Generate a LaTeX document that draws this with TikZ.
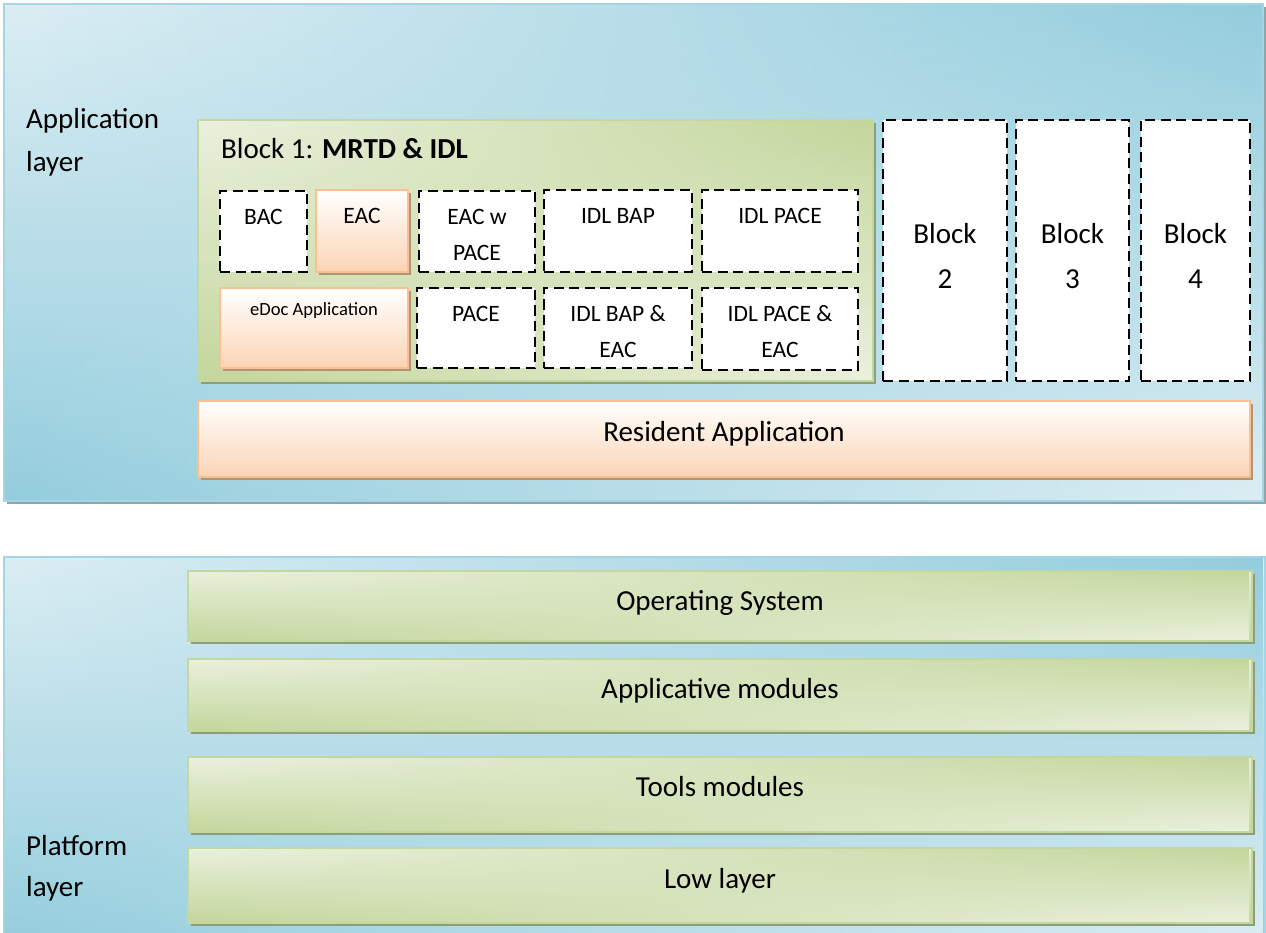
\documentclass[tikz,border=0pt]{standalone}
\usepackage{fontspec}
\setmainfont{Carlito}
\usetikzlibrary{fadings,shadows}
\definecolor{blueL}{HTML}{DCEEF4}
\definecolor{blueD}{HTML}{93CDDD}
\definecolor{blueB}{HTML}{A3D5E2}
\definecolor{blueS}{HTML}{8DA6AE}
\definecolor{greenL}{HTML}{EBF1DE}
\definecolor{greenD}{HTML}{C3D69B}
\definecolor{greenB}{HTML}{C4D79E}
\definecolor{greenS}{HTML}{8B9E7E}
\definecolor{orangeD}{HTML}{FBD4B4}
\definecolor{orangeB}{HTML}{FAC090}
\definecolor{orangeS}{HTML}{B09478}
\tikzfading[name=fadein, left color=transparent!100, right color=transparent!0]
\begin{document}
\begin{tikzpicture}[x=1pt,y=-1pt,
  boxbase/.style={rectangle, inner sep=0pt, outer sep=0pt, anchor=north west},
  quad/.style n args={2}{preaction={top color=#1, bottom color=#2},
                         preaction={top color=#2, bottom color=#1, path fading=fadein}},
  panel/.style={boxbase, draw=blueB, line width=1.5pt,
     drop shadow={shadow xshift=3pt,shadow yshift=-3pt,fill=blueS,opacity=1},
     quad={blueL}{blueD}},
  greenbox/.style={boxbase, draw=greenB, line width=1.5pt,
     drop shadow={shadow xshift=3pt,shadow yshift=-3pt,fill=greenS,opacity=1},
     quad={greenL}{greenD}},
  orangebox/.style={boxbase, draw=orangeB, line width=1.8pt,
     drop shadow={shadow xshift=3pt,shadow yshift=-3pt,fill=orangeS,opacity=1},
     top color=white, bottom color=orangeD},
  dashbox/.style={boxbase, draw=black, fill=white, line width=2.6pt,
     dash pattern=on 10pt off 5.5pt},
  big/.style={inner sep=0pt, anchor=base, font=\fontsize{29}{35}\selectfont},
  bigleft/.style={big, anchor=base west},
  small/.style={inner sep=0pt, anchor=base, font=\fontsize{23.5}{28}\selectfont},
  tiny/.style={inner sep=0pt, anchor=base, font=\fontsize{18.6}{22}\selectfont}
]
\useasboundingbox (0,0) rectangle (1266,933);
\clip (0,0) rectangle (1266,933);

% panels
\node[panel, minimum width=1259pt, minimum height=497pt] (apppanel) at (4,4) {};
\node[panel, minimum width=1261pt, minimum height=390pt] (platpanel) at (4,557) {};

% application layer
\node[bigleft] (applbl1) at (26,129) {Application};
\node[bigleft] (applbl2) at (26,172) {layer};

\node[greenbox, minimum width=675pt, minimum height=261pt] (block1) at (198,120) {};
\node[bigleft] (block1lbl) at (221,159) {Block 1: \textbf{MRTD \& IDL}};

\node[dashbox, minimum width=87pt, minimum height=81pt] (bac) at (220,191) {};
\node[small] (baclbl) at (263.5,225) {BAC};
\node[orangebox, minimum width=92pt, minimum height=82pt] (eac) at (316,190) {};
\node[small] (eaclbl) at (362,224) {EAC};
\node[dashbox, minimum width=116pt, minimum height=81pt] (eacw) at (419,191) {};
\node[small] (eacwlbl1) at (477,225) {EAC w};
\node[small] (eacwlbl2) at (477,261) {PACE};
\node[dashbox, minimum width=148pt, minimum height=82pt] (idlbap) at (544,190) {};
\node[small] (idlbaplbl) at (618,224) {IDL BAP};
\node[dashbox, minimum width=156pt, minimum height=82pt] (idlpace) at (702,190) {};
\node[small] (idlpacelbl) at (780,224) {IDL PACE};

\node[orangebox, minimum width=188pt, minimum height=80pt] (edoc) at (220,288) {};
\node[tiny] (edoclbl) at (314,316) {eDoc Application};
\node[dashbox, minimum width=118pt, minimum height=80pt] (pace) at (417,288) {};
\node[small] (pacelbl) at (476,321) {PACE};
\node[dashbox, minimum width=148pt, minimum height=80pt] (idlbapeac) at (544,288) {};
\node[small] (idlbapeaclbl1) at (618,321) {IDL BAP \&};
\node[small] (idlbapeaclbl2) at (618,357) {EAC};
\node[dashbox, minimum width=156pt, minimum height=82pt] (idlpaceeac) at (702,288) {};
\node[small] (idlpaceeaclbl1) at (780,321) {IDL PACE \&};
\node[small] (idlpaceeaclbl2) at (780,357) {EAC};

\node[dashbox, minimum width=124pt, minimum height=261pt] (block2) at (883,120) {};
\node[big] (block2lbl1) at (945,244) {Block};
\node[big] (block2lbl2) at (945,288) {2};
\node[dashbox, minimum width=113pt, minimum height=261pt] (block3) at (1016,120) {};
\node[big] (block3lbl1) at (1072.5,244) {Block};
\node[big] (block3lbl2) at (1072.5,288) {3};
\node[dashbox, minimum width=109pt, minimum height=261pt] (block4) at (1141,120) {};
\node[big] (block4lbl1) at (1195.5,244) {Block};
\node[big] (block4lbl2) at (1195.5,288) {4};

\node[orangebox, minimum width=1052pt, minimum height=76pt] (resident) at (198,401) {};
\node[big] (residentlbl) at (724,441) {Resident Application};

% platform layer
\node[bigleft] (platlbl1) at (26,855) {Platform};
\node[bigleft] (platlbl2) at (26,896) {layer};

\node[greenbox, minimum width=1064pt, minimum height=70pt] (os) at (188,571) {};
\node[big] (oslbl) at (720,610) {Operating System};
\node[greenbox, minimum width=1064pt, minimum height=72pt] (apps) at (188,659) {};
\node[big] (appslbl) at (720,698) {Applicative modules};
\node[greenbox, minimum width=1064pt, minimum height=75pt] (tools) at (188,757) {};
\node[big] (toolslbl) at (720,796) {Tools modules};
\node[greenbox, minimum width=1064pt, minimum height=75pt] (low) at (188,848) {};
\node[big] (lowlbl) at (720,888) {Low layer};
\end{tikzpicture}
\end{document}
